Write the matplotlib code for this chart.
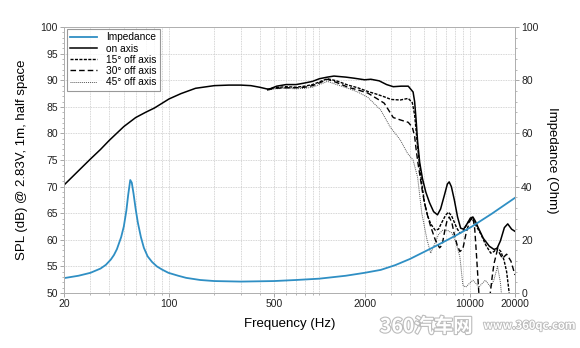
import matplotlib
matplotlib.use("Agg")
import matplotlib.pyplot as plt
import matplotlib.patheffects as pe
from matplotlib.ticker import FixedLocator, NullFormatter, MultipleLocator

plt.rcParams["font.family"] = ["Liberation Sans", "DejaVu Sans"]

# impedance (Ohm)
imp_f = [20, 25, 30, 35, 38, 41, 43, 45, 48, 50, 52, 53.5, 55.2, 56.5, 58, 60, 62, 65,
         68, 72, 77, 83, 90, 99, 115, 130, 161, 200, 300, 500, 700, 1000, 1500, 2000,
         2560, 3200, 4000, 5770, 8000, 10200, 14000, 20000]
imp_z = [5.6, 6.5, 7.6, 9.2, 10.6, 12.6, 14.3, 16.5, 21.0, 25.0, 31.0, 37.0, 42.5,
         41.5, 37.5, 31.5, 26.5, 21.0, 17.0, 13.8, 11.7, 10.0, 8.8, 7.6, 6.5, 5.7, 4.9,
         4.5, 4.3, 4.5, 4.9, 5.4, 6.5, 7.6, 8.7, 10.5, 12.8, 17.3, 21.5, 24.8, 29.8, 35.8]

# on axis SPL (dB)
on_f = [20, 25, 30, 35, 40, 50, 60, 70, 80, 100, 120, 150, 200, 250, 300, 350, 400,
        460, 520, 600, 700, 800, 900, 1000, 1130, 1250, 1500, 1700, 2000, 2200, 2500,
        2800, 3100, 3500, 3900, 4200, 4300, 4400, 4500, 4650, 4850, 5100, 5400, 5750,
        6100, 6400, 6800, 7100, 7300, 7550, 7900, 8300, 8700, 9100, 9600, 10100, 10500,
        10900, 11300, 12300, 13500, 14500, 15200, 16000, 17000, 17900, 19000, 20000]
on_db = [70.3, 73.0, 75.2, 77.0, 78.7, 81.3, 83.0, 84.0, 84.8, 86.5, 87.5, 88.5, 89.0,
         89.1, 89.1, 89.0, 88.7, 88.3, 88.9, 89.2, 89.2, 89.5, 89.8, 90.3, 90.6, 90.8,
         90.6, 90.4, 90.1, 90.2, 89.9, 89.2, 88.8, 88.9, 88.9, 87.8, 86.0, 82.5, 78.5,
         74.5, 71.5, 69.0, 67.0, 65.3, 64.7, 65.8, 68.5, 70.5, 70.9, 70.0, 67.5, 64.3,
         62.2, 62.0, 63.0, 64.1, 64.3, 63.5, 62.5, 60.3, 58.8, 58.2, 58.4, 59.8, 62.3,
         63.0, 62.0, 61.6]

# 15 deg off axis
f15 = [450, 500, 600, 700, 800, 900, 1000, 1130, 1300, 1550, 1800, 2100, 2400, 2700,
       3000, 3450, 3900, 4150, 4300, 4450, 4600, 4800, 5000, 5250, 5500, 5900, 6200,
       6500, 6900, 7200, 7550, 7900, 8200, 8600, 9000, 9400, 9850, 10300, 10700, 11100,
       11900, 12800, 13800, 14500, 15300, 16100, 16900, 17600, 18200, 19000]
db15 = [88.3, 88.6, 88.8, 88.7, 88.9, 89.2, 89.7, 90.3, 89.9, 89.1, 88.6, 87.9, 87.4,
        86.9, 86.4, 86.3, 86.6, 85.8, 83.5, 79.0, 75.0, 70.5, 67.0, 64.5, 63.0, 61.8,
        62.0, 63.2, 64.6, 65.2, 64.6, 63.3, 62.2, 61.3, 61.5, 62.5, 63.5, 64.0, 63.4,
        62.5, 61.0, 59.0, 57.5, 57.8, 58.5, 57.8, 56.2, 54.0, 50.6, 45.0]

# 30 deg off axis
f30 = [450, 500, 600, 700, 800, 900, 1000, 1130, 1300, 1550, 1800, 2100, 2400, 2700,
       3100, 3500, 3900, 4150, 4300, 4400, 4550, 4700, 4850, 5000, 5250, 5500, 5900,
       6300, 6550, 6800, 7050, 7300, 7600, 7900, 8250, 8600, 9000, 9500, 10000, 10500,
       10800, 11100, 11500, 12000, 13000, 13700, 14100, 14500, 15300, 16500, 17600,
       18800, 20000]
db30 = [88.2, 88.5, 88.6, 88.6, 88.7, 89.0, 89.5, 90.2, 89.6, 88.7, 88.2, 87.6, 86.6,
        85.7, 83.0, 82.5, 82.1, 81.2, 79.5, 77.0, 74.0, 71.5, 69.0, 67.0, 64.5, 62.5,
        60.0, 58.5, 59.0, 61.5, 63.5, 64.3, 63.3, 61.0, 59.0, 57.8, 58.3, 61.5, 63.5,
        64.3, 62.0, 57.0, 50.0, 45.0, 45.0, 50.0, 53.0, 55.5, 58.2, 56.5, 57.3, 56.0,
        53.4]

# 45 deg off axis
f45 = [450, 500, 600, 700, 800, 900, 1000, 1130, 1300, 1550, 1800, 2100, 2560, 2960,
       3450, 3850, 4200, 4500, 4800, 5200, 5500, 5800, 6200, 6600, 7100, 7600, 8100,
       8600, 9000, 9400, 9950, 10500, 11000, 11500, 12100, 12700, 13200, 13800, 14500,
       15300, 16000, 16700]
db45 = [88.1, 88.4, 88.5, 88.4, 88.5, 88.7, 89.2, 89.8, 89.2, 88.5, 87.8, 86.8, 84.4,
        81.2, 78.8, 76.3, 75.0, 71.8, 65.0, 60.0, 57.5, 59.0, 61.0, 61.8, 61.8, 61.3,
        59.5, 56.8, 51.5, 51.1, 51.8, 52.4, 51.8, 51.1, 51.8, 52.4, 51.8, 51.1, 52.5,
        55.0, 52.0, 46.0]

xticks = [20, 100, 500, 2000, 10000, 20000]
xgrid = [m * d for d in (10, 100, 1000) for m in range(2, 10)] + [100, 1000, 10000, 20000]

fig = plt.figure(figsize=(5.8, 3.48), dpi=100)
ax = fig.add_axes([0.1103, 0.158, 0.7776, 0.764])
ax2 = ax.twinx()

grey = "#9a9a9a"
ax.plot(on_f, on_db, color="black", lw=1.1, label="on axis", zorder=5)
ax.plot(f15, db15, color="black", lw=1.0, dashes=(2.2, 1.0), label="15° off axis", zorder=4)
ax.plot(f30, db30, color="black", lw=1.0, dashes=(4, 2.2), label="30° off axis", zorder=4)
ax.plot(f45, db45, color="#555555", lw=0.7, dashes=(1, 1), label="45° off axis", zorder=3)
ax2.plot(imp_f, imp_z, color="#2f8fc4", lw=1.3, label="Impedance")

ax.set_xscale("log")
ax.set_xlim(20, 20000)
ax.set_ylim(50, 100)
ax2.set_ylim(0, 100)

ax.xaxis.set_major_locator(FixedLocator(xticks))
ax.xaxis.set_major_formatter(plt.FixedFormatter([str(t) for t in xticks]))
ax.xaxis.set_minor_locator(FixedLocator(xgrid))
ax.xaxis.set_minor_formatter(NullFormatter())
ax.yaxis.set_major_locator(MultipleLocator(5))
ax.yaxis.set_minor_locator(MultipleLocator(1))
ax2.yaxis.set_major_locator(MultipleLocator(20))
ax2.yaxis.set_minor_locator(MultipleLocator(4))

for v in xgrid:
    ax.axvline(v, color="#c8c8c8", lw=0.6, ls=(0, (1, 1)), zorder=0)
for v in range(55, 100, 5):
    ax.axhline(v, color="#c8c8c8", lw=0.6, ls=(0, (1, 1)), zorder=0)

for a in (ax, ax2):
    a.tick_params(which="major", direction="out", length=3, width=0.6, color=grey,
                  labelsize=7.5, pad=1.5, labelcolor="#222222")
    a.tick_params(which="minor", direction="out", length=1.5, width=0.5, color=grey)
    for s in a.spines.values():
        s.set_color("#b0b0b0")
        s.set_linewidth(0.7)

ax.set_xlabel("Frequency (Hz)", fontsize=9.5, labelpad=6)
ax.set_ylabel("SPL (dB) @ 2.83V, 1m, half space", fontsize=9.5, labelpad=9)
ax2.set_ylabel("Impedance (Ohm)", fontsize=9.5, rotation=270, labelpad=14)

h1, l1 = ax.get_legend_handles_labels()
h2, l2 = ax2.get_legend_handles_labels()
leg = ax2.legend(h2 + h1, l2 + l1, loc="upper left", bbox_to_anchor=(0.006, 0.994),
                 borderaxespad=0, fontsize=7.3, frameon=True, fancybox=False,
                 handlelength=2.6, handletextpad=0.9, labelspacing=0.12,
                 borderpad=0.35)
leg.get_frame().set_edgecolor("#808080")
leg.get_frame().set_linewidth(0.8)

fig.text(0.655, 0.045, "360汽车网", fontsize=14, color="white",
         family=["Noto Sans CJK SC", "DejaVu Sans"], weight="bold",
         path_effects=[pe.withStroke(linewidth=1.6, foreground="#bcbcbc")])
fig.text(0.992, 0.055, "www.360qc.com", fontsize=8, color="white", ha="right",
         family=["Noto Sans CJK SC", "DejaVu Sans"], weight="bold",
         path_effects=[pe.withStroke(linewidth=1.3, foreground="#bcbcbc")])

fig.savefig("out.png", dpi=100)
